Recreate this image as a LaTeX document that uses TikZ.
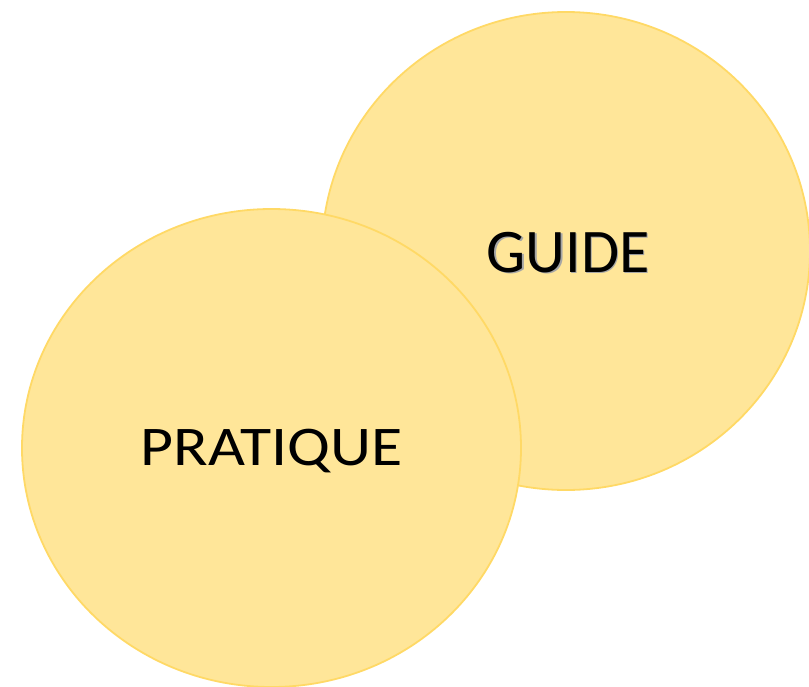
\documentclass[tikz,border=0pt]{standalone}
\usepackage{fontspec}
\setmainfont{Carlito}
\usetikzlibrary{shapes.geometric}

\definecolor{jaune}{HTML}{FFE699}
\definecolor{jaunebord}{HTML}{FFD966}

% texte avec ombre portee
\newcommand{\ombre}[1]{\makebox[0pt][l]{\hspace{1.5pt}\raisebox{-1.5pt}{\color{black!35}#1}}#1}

\begin{document}
\begin{tikzpicture}[x=1pt, y=-1pt, line width=1.8pt]
    \tikzstyle{bulle}=[ellipse, draw=jaunebord, fill=jaune, inner sep=0pt]

    \useasboundingbox (0,0) rectangle (809,686);

    \node[bulle, minimum width=488pt, minimum height=478pt, font=\fontsize{62}{70}\selectfont]
        (guide) at (566,251) {\hspace{4pt}\smash{\raisebox{-21pt}{\ombre{GUIDE}}}};
    \node[bulle, minimum width=499pt, minimum height=478pt, font=\fontsize{56}{64}\selectfont]
        (pratique) at (271.5,448) {\smash{\raisebox{-17pt}{\scalebox{1.14}[1]{PRATIQUE}}}};
\end{tikzpicture}
\end{document}
